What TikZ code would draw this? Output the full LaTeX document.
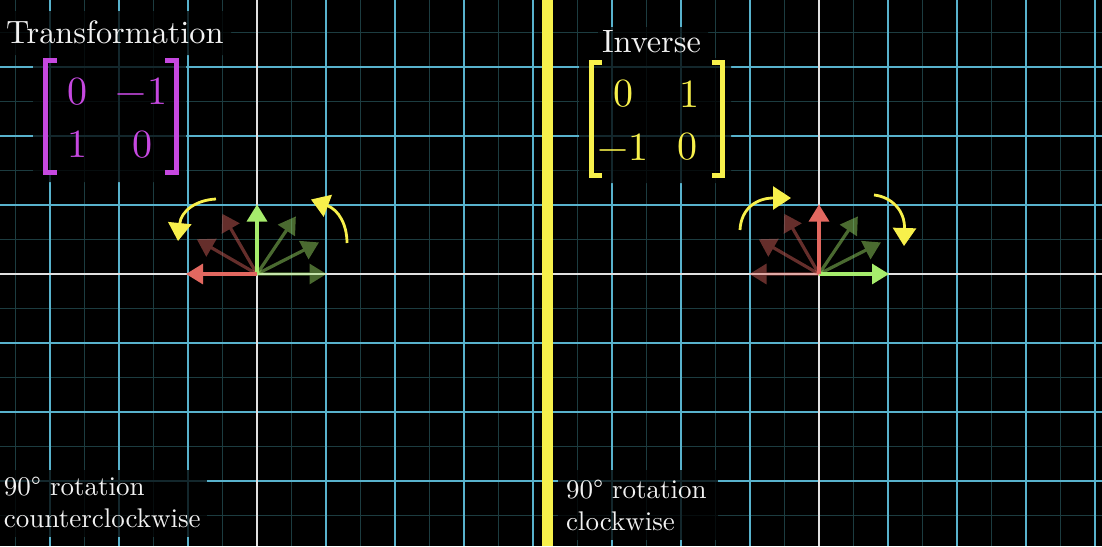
\documentclass[tikz,border=0pt]{standalone}
\usepackage{fontspec}
\setmainfont{lmroman10-regular.otf}
\usetikzlibrary{arrows.meta}
\definecolor{gridfaint}{RGB}{28,60,64}
\definecolor{gridblue}{RGB}{88,178,204}
\definecolor{axiswhite}{RGB}{225,225,225}
\definecolor{ylw}{RGB}{247,240,75}
\definecolor{mag}{RGB}{198,72,224}
\definecolor{grn}{RGB}{166,236,108}
\definecolor{redv}{RGB}{226,104,96}
\definecolor{txtwhite}{RGB}{242,242,242}
\newcommand\mysizetitle{\fontsize{32.3}{36}\selectfont}
\newcommand\mysizeentry{\fontsize{40}{48}\selectfont}
\newcommand\mysizenote{\fontsize{27}{32}\selectfont}
\tikzset{
 faintline/.style={gridfaint, line width=1.3pt},
 majorline/.style={gridblue, line width=1.2pt},
 axisline/.style={axiswhite, line width=2.6pt},
 vec/.style={line width=3.2pt, -{Triangle[length=17pt,width=20pt]}},
 dimgroup/.style={transparency group, opacity=0.45},
 turn/.style={ylw, line width=2.8pt, -{Triangle[length=18pt,width=23pt]}},
 bracket/.style={line width=5pt, line join=miter, line cap=butt},
 lbl/.style={inner sep=0pt, outer sep=0pt, anchor=base west, text=txtwhite},
 entry/.style={inner sep=0pt, outer sep=0pt, anchor=base},
 backrect/.style={fill=black, fill opacity=0.78},
}
\begin{document}
\begin{tikzpicture}[x=1pt,y=-1pt]
\fill[black] (0,0) rectangle (1102,546);
\useasboundingbox (0,0) rectangle (1102,546);
% ---------- left grid ----------
\begin{scope}
\clip (0,0) rectangle (542,546);
\foreach \k in {-9,-7,...,9} {
  \draw[faintline] ({257+34.5*\k},0) -- ({257+34.5*\k},546);
  \draw[faintline] (0,{274+34.5*\k}) -- (542,{274+34.5*\k});
}
\foreach \k in {-8,-6,...,8} {
  \draw[majorline] ({257+34.5*\k},0) -- ({257+34.5*\k},546);
  \draw[majorline] (0,{274+34.5*\k}) -- (542,{274+34.5*\k});
}
\draw[axisline] (0,274) -- (542,274);
\draw[axisline, line width=2pt] (257,0) -- (257,546);
\end{scope}
% ---------- right grid ----------
\begin{scope}
\clip (553,0) rectangle (1102,546);
\foreach \k in {-9,-7,...,9} {
  \draw[faintline] ({819+34.5*\k},0) -- ({819+34.5*\k},546);
  \draw[faintline] (553,{274+34.5*\k}) -- (1102,{274+34.5*\k});
}
\foreach \k in {-8,-6,...,8} {
  \draw[majorline] ({819+34.5*\k},0) -- ({819+34.5*\k},546);
  \draw[majorline] (553,{274+34.5*\k}) -- (1102,{274+34.5*\k});
}
\draw[axisline] (553,274) -- (1102,274);
\draw[axisline, line width=2pt] (819,0) -- (819,546);
\end{scope}
% ---------- background rectangles ----------
\fill[backrect] (0,11) rectangle (231,55) (33,55) rectangle (186,182);
\fill[backrect] (598,27) rectangle (708,58) (579,58) rectangle (731,183);
\fill[backrect] (0,470) rectangle (207,537);
\fill[backrect] (558,470) rectangle (718,540);
% ---------- left texts ----------
\node[lbl] (tTitle) at (6,43) {\mysizetitle Transformation};
\draw[bracket, mag] (56.7,60.5) -- (45.5,60.5) -- (45.5,172.5) -- (56.7,172.5);
\draw[bracket, mag] (165,60.5) -- (176.3,60.5) -- (176.3,172.5) -- (165,172.5);
\node[entry, text=mag] (a11) at (77.5,104) {\mysizeentry 0};
\node[entry, text=mag] (a12) at (141.5,104) {\mysizeentry −1};
\node[entry, text=mag] (a21) at (77,157) {\mysizeentry 1};
\node[entry, text=mag] (a22) at (142.5,157) {\mysizeentry 0};
\node[lbl] (nL1) at (4,495) {\mysizenote 90° rotation};
\node[lbl] (nL2) at (4,527) {\mysizenote counterclockwise};
% ---------- right texts ----------
\node[lbl] (tInv) at (602,52.5) {\mysizetitle Inverse};
\draw[bracket, ylw] (601.7,62.5) -- (591.2,62.5) -- (591.2,175.5) -- (601.7,175.5);
\draw[bracket, ylw] (711.7,62.5) -- (722.3,62.5) -- (722.3,175.5) -- (711.7,175.5);
\node[entry, text=ylw] (b11) at (623,106) {\mysizeentry 0};
\node[entry, text=ylw] (b12) at (689,107) {\mysizeentry 1};
\node[entry, text=ylw] (b21) at (623,160) {\mysizeentry −1};
\node[entry, text=ylw] (b22) at (687.5,159) {\mysizeentry 0};
\node[lbl] (nR1) at (566,498) {\mysizenote 90° rotation};
\node[lbl] (nR2) at (566,530) {\mysizenote clockwise};
% ---------- left vectors ----------
\coordinate (oL) at (257,274);
\begin{scope}[dimgroup]\draw[vec, grn] (oL) -- ++(0:69.5);\end{scope}
\begin{scope}[dimgroup]\draw[vec, grn] (oL) -- ++(-27:69.5);\end{scope}
\begin{scope}[dimgroup]\draw[vec, grn] (oL) -- ++(-56:69.5);\end{scope}
\begin{scope}[dimgroup]\draw[vec, redv] (oL) -- ++(-120:69.5);\end{scope}
\begin{scope}[dimgroup]\draw[vec, redv] (oL) -- ++(-150:69.5);\end{scope}
\draw[vec, grn] (oL) -- ++(-90:69.5);
\draw[vec, redv] (oL) -- ++(-180:71);
% ---------- right vectors ----------
\coordinate (oR) at (819,274);
\begin{scope}[dimgroup]\draw[vec, redv] (oR) -- ++(-180:69.5);\end{scope}
\begin{scope}[dimgroup]\draw[vec, grn] (oR) -- ++(-27:69.5);\end{scope}
\begin{scope}[dimgroup]\draw[vec, grn] (oR) -- ++(-56:69.5);\end{scope}
\begin{scope}[dimgroup]\draw[vec, redv] (oR) -- ++(-120:69.5);\end{scope}
\begin{scope}[dimgroup]\draw[vec, redv] (oR) -- ++(-150:69.5);\end{scope}
\draw[vec, grn] (oR) -- ++(0:70);
\draw[vec, redv] (oR) -- ++(-90:69.5);
% ---------- yellow turn arrows ----------
\coordinate (lA0) at (216,199);
\coordinate (lA1) at (178,241);
\draw[turn] (lA0) .. controls (196,200) and (181,211) .. (lA1);
\coordinate (lB0) at (347,243);
\coordinate (lB1) at (311,199.5);
\draw[turn] (lB0) .. controls (347,225) and (339,210) .. (lB1);
\coordinate (rA0) at (740,230);
\coordinate (rA1) at (791,198);
\draw[turn] (rA0) .. controls (741,209) and (756,198) .. (rA1);
\coordinate (rB0) at (874,195);
\coordinate (rB1) at (904,246);
\draw[turn] (rB0) .. controls (892,197) and (905,211) .. (rB1);
% ---------- divider ----------
\fill[ylw] (542,0) rectangle (553,546);
\end{tikzpicture}
\end{document}
